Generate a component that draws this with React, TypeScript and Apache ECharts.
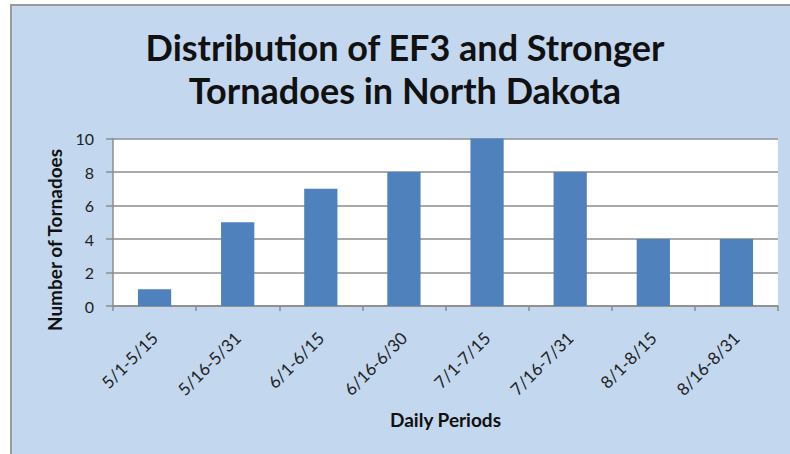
import React, { useEffect, useRef } from "react";
import * as echarts from "echarts";

const categories = ["5/1-5/15", "5/16-5/31", "6/1-6/15", "6/16-6/30", "7/1-7/15", "7/16-7/31", "8/1-8/15", "8/16-8/31"];
const tornadoCounts = [1, 5, 7, 8, 10, 8, 4, 4];
const titleLines = ["Distribution of EF3 and Stronger", "Tornadoes in North Dakota"];
const yAxisTitle = "Number of Tornadoes";
const xAxisTitle = "Daily Periods";

const FONT = "Lato, 'Open Sans', sans-serif";

export default function App() {
  const ref = useRef<HTMLDivElement>(null);
  useEffect(() => {
    if (!ref.current) return;
    const chart = echarts.init(ref.current, undefined, { renderer: "svg" });
    chart.setOption({
      animation: false,
      backgroundColor: "#ffffff",
      graphic: [
        {
          type: "rect",
          z: -10,
          silent: true,
          shape: { x: 11, y: 5, width: 800, height: 470 },
          style: { fill: "#C3D7EE", stroke: "#9A9A9A", lineWidth: 2 },
        },
        {
          type: "rect",
          z: -5,
          silent: true,
          shape: { x: 113, y: 138.5, width: 665, height: 167.5 },
          style: { fill: "#ffffff" },
        },
        {
          type: "text",
          x: 405,
          y: 47,
          style: {
            text: titleLines[0],
            font: `bold 36px ${FONT}`,
            fill: "#111111",
            textAlign: "center",
            textVerticalAlign: "middle",
          },
        },
        {
          type: "text",
          x: 405,
          y: 90,
          style: {
            text: titleLines[1],
            font: `bold 36px ${FONT}`,
            fill: "#111111",
            textAlign: "center",
            textVerticalAlign: "middle",
          },
        },
        {
          type: "text",
          x: 54,
          y: 240,
          rotation: Math.PI / 2,
          style: {
            text: yAxisTitle,
            font: `bold 19px ${FONT}`,
            fill: "#111111",
            textAlign: "center",
            textVerticalAlign: "middle",
          },
        },
      ],
      grid: { left: 113, right: 12, top: 138.5, bottom: 148, containLabel: false },
      xAxis: {
        type: "category",
        data: categories,
        name: xAxisTitle,
        nameLocation: "middle",
        nameGap: 104,
        nameTextStyle: { fontFamily: FONT, fontWeight: "bold", fontSize: 19, color: "#111111" },
        axisLine: { lineStyle: { color: "#8C8C8C", width: 1.5 } },
        axisTick: { show: true, length: 5, lineStyle: { color: "#8C8C8C", width: 1.5 } },
        axisLabel: { rotate: 45, fontFamily: FONT, fontSize: 17, color: "#222222", margin: 29, interval: 0 },
      },
      yAxis: {
        type: "value",
        min: 0,
        max: 10,
        interval: 2,
        axisLine: { show: true, lineStyle: { color: "#8C8C8C", width: 1.5 } },
        axisTick: { show: true, length: 7, lineStyle: { color: "#8C8C8C", width: 1.5 } },
        axisLabel: { fontFamily: FONT, fontSize: 16, color: "#222222", margin: 19 },
        splitLine: { lineStyle: { color: "#8C8C8C", width: 1.5 } },
      },
      series: [
        {
          type: "bar",
          data: tornadoCounts,
          barWidth: "40%",
          itemStyle: { color: "#4F81BD" },
        },
      ],
    });
    return () => chart.dispose();
  }, []);
  return (
    <div
      ref={ref}
      style={{ position: "absolute", left: 0, top: 0, width: 790, height: 454 }}
    />
  );
}
